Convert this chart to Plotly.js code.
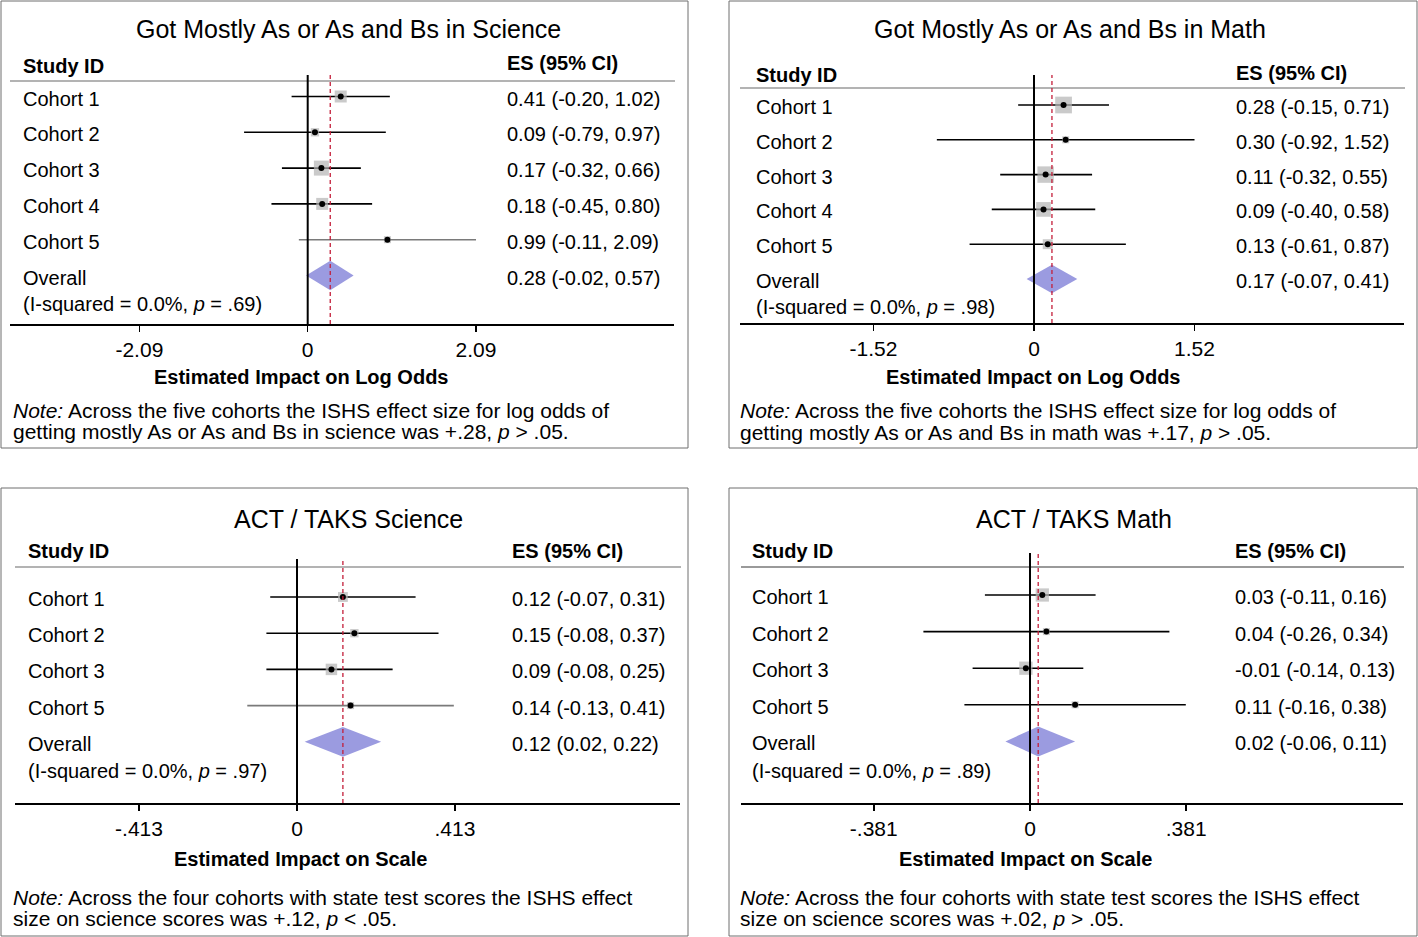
<!DOCTYPE html>
<html>
<head>
<meta charset="utf-8">
<script src="https://cdn.plot.ly/plotly-3.0.1.min.js"></script>
<style>
  html, body { margin: 0; padding: 0; background: #fff; }
  #chart { width: 1418px; height: 937px; }
</style>
</head>
<body>
<div id="chart"></div>
<script>
// ---------------- DATA ----------------
const panelTitles = [
  'Got Mostly As or As and Bs in Science',
  'Got Mostly As or As and Bs in Math',
  'ACT / TAKS Science',
  'ACT / TAKS Math'
];
const studiesFive = ['Cohort 1', 'Cohort 2', 'Cohort 3', 'Cohort 4', 'Cohort 5'];
const studiesFour = ['Cohort 1', 'Cohort 2', 'Cohort 3', 'Cohort 5'];

// Panel 1: grades, science (log odds)
const sciGradeES = [0.41, 0.09, 0.17, 0.18, 0.99];
const sciGradeLo = [-0.20, -0.79, -0.32, -0.45, -0.11];
const sciGradeHi = [1.02, 0.97, 0.66, 0.80, 2.09];
const sciGradeWeight = [23, 11, 36, 23, 7];
const sciGradeOverall = [0.28, -0.02, 0.57];
const sciGradeHet = ['0.0%', '.69'];

// Panel 2: grades, math (log odds)
const mathGradeES = [0.28, 0.30, 0.11, 0.09, 0.13];
const mathGradeLo = [-0.15, -0.92, -0.32, -0.40, -0.61];
const mathGradeHi = [0.71, 1.52, 0.55, 0.58, 0.87];
const mathGradeWeight = [31, 4, 30, 24, 11];
const mathGradeOverall = [0.17, -0.07, 0.41];
const mathGradeHet = ['0.0%', '.98'];

// Panel 3: ACT / TAKS science (scale)
const sciTestES = [0.12, 0.15, 0.09, 0.14];
const sciTestLo = [-0.07, -0.08, -0.08, -0.13];
const sciTestHi = [0.31, 0.37, 0.25, 0.41];
const sciTestWeight = [28, 20, 38, 14];
const sciTestOverall = [0.12, 0.02, 0.22];
const sciTestHet = ['0.0%', '.97'];

// Panel 4: ACT / TAKS math (scale)
const mathTestES = [0.03, 0.04, -0.01, 0.11];
const mathTestLo = [-0.11, -0.26, -0.14, -0.16];
const mathTestHi = [0.16, 0.34, 0.13, 0.38];
const mathTestWeight = [41, 8, 41, 10];
const mathTestOverall = [0.02, -0.06, 0.11];
const mathTestHet = ['0.0%', '.89'];

const axisTickValues = [2.09, 1.52, 0.413, 0.381];
const axisTickLabels = [
  ['-2.09', '0', '2.09'],
  ['-1.52', '0', '1.52'],
  ['-.413', '0', '.413'],
  ['-.381', '0', '.381']
];
const axisTitles = [
  'Estimated Impact on Log Odds',
  'Estimated Impact on Log Odds',
  'Estimated Impact on Scale',
  'Estimated Impact on Scale'
];
const noteLines = [
  ['<i>Note:</i> Across the five cohorts the ISHS effect size for log odds of',
   'getting mostly As or As and Bs in science was +.28, <i>p</i> &gt; .05.'],
  ['<i>Note:</i> Across the five cohorts the ISHS effect size for log odds of',
   'getting mostly As or As and Bs in math was +.17, <i>p</i> &gt; .05.'],
  ['<i>Note:</i> Across the four cohorts with state test scores the ISHS effect',
   'size on science scores was +.12, <i>p</i> &lt; .05.'],
  ['<i>Note:</i> Across the four cohorts with state test scores the ISHS effect',
   'size on science scores was +.02, <i>p</i> &gt; .05.']
];

const panelData = [
  {labels: studiesFive, es: sciGradeES, lo: sciGradeLo, hi: sciGradeHi, w: sciGradeWeight, ov: sciGradeOverall, het: sciGradeHet},
  {labels: studiesFive, es: mathGradeES, lo: mathGradeLo, hi: mathGradeHi, w: mathGradeWeight, ov: mathGradeOverall, het: mathGradeHet},
  {labels: studiesFour, es: sciTestES, lo: sciTestLo, hi: sciTestHi, w: sciTestWeight, ov: sciTestOverall, het: sciTestHet},
  {labels: studiesFour, es: mathTestES, lo: mathTestLo, hi: mathTestHi, w: mathTestWeight, ov: mathTestOverall, het: mathTestHet}
];

// ---------------- LAYOUT / STYLE (pixels) ----------------
const W = 1418, H = 937;
const X = px => px / W;
const Y = py => 1 - py / H;

const geo = [
  {box: [1, 1, 688, 448], xd: [10, 674], yd: [75, 324], zeroPx: 307.7, unitPx: 80.53,
   rowTop: 96.5, rowStep: 35.8, titleX: 348, titleY: 29, headY: 66, esHeadY: 63, headLineY: 81, headLineW: 1.3,
   labelX: 22, valueX: 506, axTitleX: 301, axTitleY: 377, noteX: 12, noteY: [410, 431],
   boxK: 2.5, grayRows: [4]},
  {box: [729, 1, 1417, 448], xd: [740, 1404], yd: [75, 323], zeroPx: 1034, unitPx: 105.6,
   rowTop: 105, rowStep: 34.8, titleX: 1070, titleY: 29, headY: 75, esHeadY: 73, headLineY: 88, headLineW: 1.3,
   labelX: 755, valueX: 1235, axTitleX: 1033, axTitleY: 377, noteX: 739, noteY: [410, 432],
   boxK: 3.0, grayRows: []},
  {box: [1, 488, 688, 936], xd: [15, 680], yd: [559, 803], zeroPx: 297, unitPx: 382.5,
   rowTop: 597, rowStep: 36.2, titleX: 348, titleY: 519, headY: 551, esHeadY: 551, headLineY: 567, headLineW: 1.3,
   labelX: 27, valueX: 511, axTitleX: 300, axTitleY: 859, noteX: 12, noteY: [897, 918],
   boxK: 1.86, grayRows: [3]},
  {box: [729, 488, 1417, 936], xd: [741, 1403], yd: [553, 803], zeroPx: 1030, unitPx: 410,
   rowTop: 595, rowStep: 36.6, titleX: 1074, titleY: 519, headY: 551, esHeadY: 551, headLineY: 567, headLineW: 2.2,
   labelX: 751, valueX: 1234, axTitleX: 1025, axTitleY: 859, noteX: 739, noteY: [897, 918],
   boxK: 2.07, grayRows: []}
];

const FONT = 'Liberation Sans, Arial, Helvetica, sans-serif';
const BOX_GRAY = '#b4b4b4';
const DIAMOND = '#9b9be0';
const RED = '#c41e3a';
const DIAMOND_HALF = 0.41;
const TEXT_DROP = -2; // row text sits a little below the markers

const fmt = v => v.toFixed(2);
const esText = (e, l, h) => fmt(e) + ' (' + fmt(l) + ', ' + fmt(h) + ')';

const traces = [];
const shapes = [];
const annotations = [];
const layout = {
  width: W, height: H,
  margin: {l: 0, r: 0, t: 0, b: 0},
  paper_bgcolor: '#fff', plot_bgcolor: 'rgba(0,0,0,0)',
  showlegend: false,
  font: {family: FONT, size: 20, color: '#000'},
  shapes: shapes, annotations: annotations
};

function note(xref, yref, x, y, text, size, anchor, yshift) {
  annotations.push({xref: xref, yref: yref, x: x, y: y, xanchor: anchor || 'left',
    yanchor: 'middle', showarrow: false, text: text, borderpad: 0, yshift: yshift || 0,
    font: {family: FONT, size: size, color: '#000'}});
}

panelData.forEach((d, i) => {
  const g = geo[i];
  const s = i === 0 ? '' : String(i + 1);
  const xa = 'x' + s, ya = 'y' + s;
  const rowAt = py => 1 + (py - g.rowTop) / g.rowStep;
  const n = d.labels.length;
  const rows = d.labels.map((_, j) => j + 1);
  const ovRow = n + 1;

  layout['xaxis' + s] = {
    domain: [X(g.xd[0]), X(g.xd[1])],
    range: [(g.xd[0] - g.zeroPx) / g.unitPx, (g.xd[1] - g.zeroPx) / g.unitPx],
    anchor: ya, showline: true, linecolor: '#000', linewidth: 1.5,
    ticks: 'outside', ticklen: 6, tickwidth: 1.5, tickcolor: '#000',
    tickvals: [-axisTickValues[i], 0, axisTickValues[i]],
    ticktext: axisTickLabels[i],
    tickfont: {family: FONT, size: 21, color: '#000'},
    showgrid: false, zeroline: false, fixedrange: true
  };
  layout['yaxis' + s] = {
    domain: [Y(g.yd[1]), Y(g.yd[0])],
    range: [rowAt(g.yd[1]), rowAt(g.yd[0])],
    anchor: xa, showline: false, showticklabels: false, ticks: '',
    showgrid: false, zeroline: false, fixedrange: true
  };

  // CI lines
  d.labels.forEach((_, j) => {
    traces.push({
      x: [d.lo[j], d.hi[j]], y: [rows[j], rows[j]], xaxis: xa, yaxis: ya,
      mode: 'lines', hoverinfo: 'skip',
      line: {color: g.grayRows.includes(j) ? '#7a7a7a' : '#000', width: 1.6}
    });
  });
  // weight boxes
  traces.push({
    x: d.es, y: rows, xaxis: xa, yaxis: ya, mode: 'markers', hoverinfo: 'skip',
    marker: {symbol: 'square', color: BOX_GRAY, line: {width: 0},
             size: d.w.map(w => Math.max(7, g.boxK * Math.sqrt(w)))}
  });
  // point estimates
  traces.push({
    x: d.es, y: rows, xaxis: xa, yaxis: ya, mode: 'markers', hoverinfo: 'skip',
    marker: {symbol: 'circle', color: '#000', size: 6, line: {width: 0}}
  });
  // pooled diamond
  traces.push({
    x: [d.ov[1], d.ov[0], d.ov[2], d.ov[0], d.ov[1]],
    y: [ovRow, ovRow - DIAMOND_HALF, ovRow, ovRow + DIAMOND_HALF, ovRow],
    xaxis: xa, yaxis: ya, mode: 'lines', fill: 'toself', fillcolor: DIAMOND,
    line: {width: 0, color: DIAMOND}, hoverinfo: 'skip'
  });

  // panel border
  shapes.push({type: 'rect', xref: 'paper', yref: 'paper',
    x0: X(g.box[0]), x1: X(g.box[2]), y0: Y(g.box[3]), y1: Y(g.box[1]),
    line: {color: '#6e6e6e', width: 1}, layer: 'below'});
  // header rule
  shapes.push({type: 'line', xref: 'paper', yref: 'paper',
    x0: X(g.xd[0]), x1: X(g.xd[1] + 1), y0: Y(g.headLineY), y1: Y(g.headLineY),
    line: {color: '#9a9a9a', width: g.headLineW}, layer: 'below'});
  // null line
  shapes.push({type: 'line', xref: xa, yref: ya + ' domain',
    x0: 0, x1: 0, y0: 0, y1: 1, line: {color: '#000', width: 2}, layer: 'above'});
  // pooled estimate line
  shapes.push({type: 'line', xref: xa, yref: ya + ' domain',
    x0: d.ov[0], x1: d.ov[0], y0: 0, y1: 1,
    line: {color: RED, width: 1.3, dash: '4px,3px'}, layer: 'above'});

  // titles and headings
  note('paper', 'paper', X(g.titleX), Y(g.titleY), panelTitles[i], 25, 'center');
  note('paper', 'paper', X(g.labelX), Y(g.headY), '<b>Study ID</b>', 20);
  note('paper', 'paper', X(g.valueX), Y(g.esHeadY), '<b>ES (95% CI)</b>', 20);

  // row labels and values
  d.labels.forEach((lab, j) => {
    note('paper', ya, X(g.labelX), rows[j], lab, 20, 'left', TEXT_DROP);
    note('paper', ya, X(g.valueX), rows[j], esText(d.es[j], d.lo[j], d.hi[j]), 20, 'left', TEXT_DROP);
  });
  note('paper', ya, X(g.labelX), ovRow, 'Overall', 20, 'left', TEXT_DROP);
  note('paper', ya, X(g.valueX), ovRow, esText(d.ov[0], d.ov[1], d.ov[2]), 20, 'left', TEXT_DROP);
  note('paper', ya, X(g.labelX), ovRow + 0.75,
    '(I-squared = ' + d.het[0] + ', <i>p</i> = ' + d.het[1] + ')', 20, 'left', TEXT_DROP);

  // axis title and notes
  note('paper', 'paper', X(g.axTitleX), Y(g.axTitleY), '<b>' + axisTitles[i] + '</b>', 20, 'center');
  noteLines[i].forEach((line, k) => {
    note('paper', 'paper', X(g.noteX), Y(g.noteY[k]), line, 21);
  });
});

Plotly.newPlot('chart', traces, layout, {staticPlot: true, displayModeBar: false});
</script>
</body>
</html>
